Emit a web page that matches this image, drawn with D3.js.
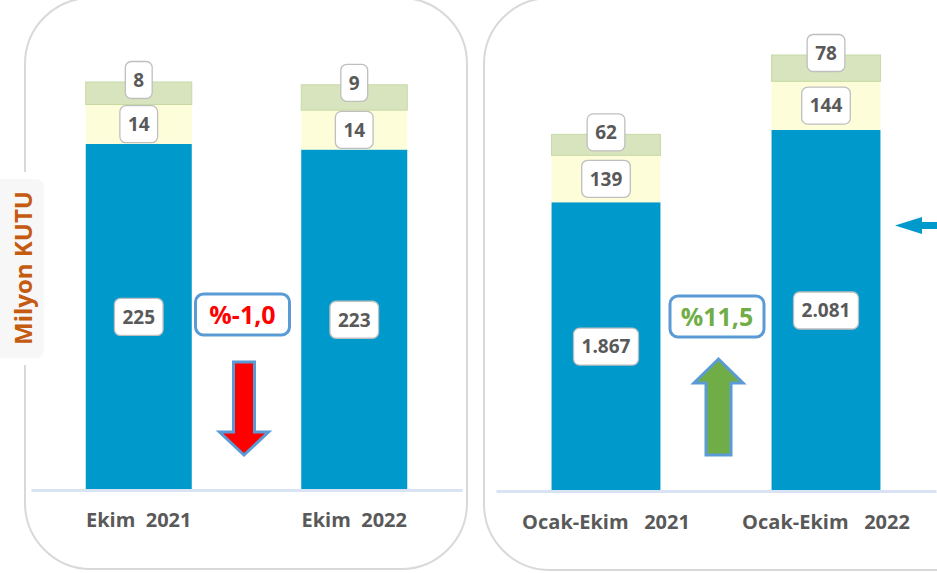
<!DOCTYPE html>
<html>
<head>
<meta charset="utf-8">
<script src="https://cdn.jsdelivr.net/npm/d3@7"></script>
<style>
  body { margin: 0; background: #fff; }
  text { font-family: 'Open Sans', sans-serif; font-weight: 700; }
</style>
</head>
<body>
<div id="chart"></div>
<script>
const chart_width = 937;
const chart_height = 573;

// monthly panel
const month_labels = ['Ekim  2021', 'Ekim  2022'];
const month_main = [225, 223];
const month_mid = [14, 14];
const month_top = [8, 9];

// year-to-date panel
const ytd_labels = ['Ocak-Ekim   2021', 'Ocak-Ekim   2022'];
const ytd_main = [1867, 2081];
const ytd_mid = [139, 144];
const ytd_top = [62, 78];

const change_labels = ['%-1,0', '%11,5'];
const unit_label = 'Milyon KUTU';

const colors = { main: '#0099cc', mid: '#fdfdd9', top: '#d7e4bd' };
const label_grey = '#595959';

const tr = d3.formatLocale({ decimal: ',', thousands: '.', grouping: [3], currency: ['', ''] });
const fmt = tr.format(',');

const svg = d3.select('#chart')
    .append('svg')
    .attr('width', chart_width)
    .attr('height', chart_height);

//--------------------------------------------------------------------
// panel frames
svg.append('rect')
    .attr('x', 25).attr('y', -2)
    .attr('width', 442).attr('height', 571)
    .attr('rx', 66)
    .attr('fill', '#fff').attr('stroke', '#d9d9d9').attr('stroke-width', 2);

svg.append('rect')
    .attr('x', 484).attr('y', -2)
    .attr('width', 540).attr('height', 572)
    .attr('rx', 66)
    .attr('fill', '#fff').attr('stroke', '#d9d9d9').attr('stroke-width', 2);

//--------------------------------------------------------------------
const panels = [{
        labels: month_labels, main: month_main, mid: month_mid, top: month_top,
        x_range: [31, 462], pad: 0.508,
        floor: 102, ceil: 247, y_range: [490, 82],
        change: change_labels[0], change_color: '#ff0000', up: false,
        note_dx: -4, box_y: 294, label_y: 37
    },
    {
        labels: ytd_labels, main: ytd_main, mid: ytd_mid, top: ytd_top,
        x_range: [496, 936], pad: 0.505,
        floor: 1012, ceil: 2303, y_range: [491, 55],
        change: change_labels[1], change_color: '#70ad47', up: true,
        note_dx: 1, box_y: 296, label_y: 38
    }
];

function valueBox(g, x, y, txt) {
    const grp = g.append('g');
    const rect = grp.append('rect');
    const t = grp.append('text')
        .attr('x', x).attr('y', y)
        .attr('text-anchor', 'middle')
        .attr('dy', '0.36em')
        .attr('font-size', 19)
        .attr('fill', label_grey)
        .text(txt);
    const w = t.node().getComputedTextLength() + 16;
    rect.attr('x', x - w / 2).attr('y', y - 18.5)
        .attr('width', w).attr('height', 37)
        .attr('rx', 6)
        .attr('fill', '#fff').attr('stroke', '#bfbfbf').attr('stroke-width', 1.3);
}

panels.forEach(p => {
    const rows = p.labels.map((c, i) => ({ cat: c, main: p.main[i], mid: p.mid[i], top: p.top[i] }));

    const x_scale = d3.scaleBand()
        .domain(p.labels)
        .range(p.x_range)
        .paddingInner(p.pad)
        .paddingOuter(p.pad / 2);

    // axis starts above zero (truncated axis as in the original)
    const y_scale = d3.scaleLinear()
        .domain([p.floor, p.ceil])
        .range(p.y_range);

    const stack = d3.stack().keys(['main', 'mid', 'top'])(rows);

    const g = svg.append('g');

    g.selectAll('g.layer')
        .data(stack)
        .enter()
        .append('g')
        .attr('class', 'layer')
        .attr('fill', d => colors[d.key])
        .attr('stroke', d => d.key === 'top' ? '#c6d9a5' : 'none')
        .selectAll('rect')
        .data(d => d)
        .enter()
        .append('rect')
        .attr('x', d => x_scale(d.data.cat))
        .attr('width', x_scale.bandwidth())
        .attr('y', d => y_scale(d[1]))
        .attr('height', d => y_scale(Math.max(d[0], p.floor)) - y_scale(d[1]));

    // axis line + category labels
    const x_axis = d3.axisBottom(x_scale).tickSize(0).tickSizeOuter(0);
    const ax = g.append('g')
        .attr('transform', 'translate(0,' + p.y_range[0] + ')')
        .call(x_axis);
    ax.select('.domain').attr('stroke', '#dae3f3').attr('stroke-width', 3);
    ax.selectAll('text')
        .attr('y', p.label_y)
        .attr('dy', null)
        .attr('font-family', "'Open Sans', sans-serif")
        .attr('font-weight', 700)
        .attr('font-size', 20)
        .attr('fill', label_grey)
        .style('white-space', 'pre');

    // value labels
    stack.forEach(layer => {
        layer.forEach(d => {
            const cx = x_scale(d.data.cat) + x_scale.bandwidth() / 2;
            const y0 = y_scale(Math.max(d[0], p.floor));
            const y1 = y_scale(d[1]);
            const cy = layer.key === 'top' ? y1 - 2 : (y0 + y1) / 2;
            valueBox(g, cx, cy, fmt(d.data[layer.key]));
        });
    });

    // change note + arrow between the bars
    const c0 = x_scale(p.labels[0]) + x_scale.bandwidth() / 2;
    const c1 = x_scale(p.labels[1]) + x_scale.bandwidth() / 2;
    const mx = (c0 + c1) / 2 + p.note_dx;

    g.append('rect')
        .attr('x', mx - 47).attr('y', p.box_y)
        .attr('width', 94).attr('height', 41)
        .attr('rx', 8)
        .attr('fill', '#fff').attr('stroke', '#5b9bd5').attr('stroke-width', 3);
    g.append('text')
        .attr('x', mx).attr('y', p.box_y + 21)
        .attr('text-anchor', 'middle')
        .attr('dy', '0.36em')
        .attr('font-size', 25)
        .attr('fill', p.change_color)
        .text(p.change);

    const ax_ = mx + 1.5;
    let d;
    if (p.up) {
        d = `M${ax_ - 12.5},455 V383 H${ax_ - 24.5} L${ax_},359 L${ax_ + 24.5},383 H${ax_ + 12.5} V455 Z`;
    } else {
        d = `M${ax_ - 10.5},362 H${ax_ + 10.5} V432 H${ax_ + 24.5} L${ax_},455 L${ax_ - 24.5},432 H${ax_ - 10.5} Z`;
    }
    g.append('path')
        .attr('d', d)
        .attr('fill', p.change_color)
        .attr('stroke', '#5b9bd5').attr('stroke-width', 3)
        .attr('stroke-linejoin', 'miter');
});

//--------------------------------------------------------------------
// unit label on the left
svg.append('rect')
    .attr('x', -10).attr('y', 172)
    .attr('width', 60).attr('height', 193)
    .attr('fill', '#fff');
svg.append('rect')
    .attr('x', -10).attr('y', 179)
    .attr('width', 54).attr('height', 179)
    .attr('rx', 8)
    .attr('fill', '#f7f7f7');
svg.append('text')
    .attr('transform', 'translate(32,268) rotate(-90)')
    .attr('text-anchor', 'middle')
    .attr('font-size', 24)
    .attr('fill', '#c55a11')
    .text(unit_label);

// pointer arrow at the right edge
svg.append('path')
    .attr('d', 'M940,222 H922 V217 L895,225.5 L922,234 V229 H940 Z')
    .attr('fill', '#0099cc');
</script>
</body>
</html>
